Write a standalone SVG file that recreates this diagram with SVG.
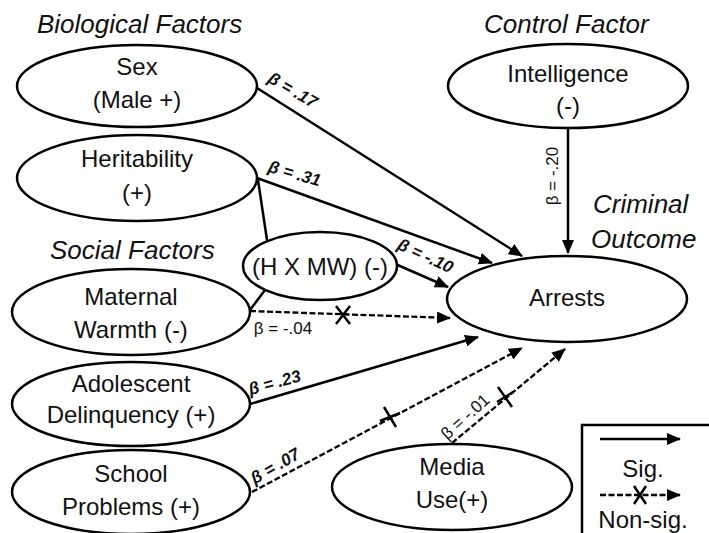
<svg xmlns="http://www.w3.org/2000/svg" width="709" height="533" viewBox="0 0 709 533">
<style>
.node ellipse{fill:#fff;stroke:#000;stroke-width:2.5}
.nt{font-family:"Liberation Sans",Arial,sans-serif;font-size:24px;text-anchor:middle;fill:#111}
.hd{font-family:"Liberation Sans",Arial,sans-serif;font-size:26px;font-style:italic;fill:#111}
.b{font-family:"Liberation Sans",Arial,sans-serif;font-size:17px;font-style:italic;font-weight:bold;fill:#111;text-anchor:middle}
.br{font-family:"Liberation Sans",Arial,sans-serif;font-size:17px;fill:#111;text-anchor:middle}
.sol{stroke:#000;stroke-width:2.5;fill:none}
.dash{stroke:#000;stroke-width:2.3;fill:none;stroke-dasharray:6 2.5}
.x{stroke:#000;stroke-width:2.5;fill:none}
</style>
<defs>
<marker id="ah" markerUnits="userSpaceOnUse" markerWidth="14" markerHeight="12" refX="13" refY="6" orient="auto">
<path d="M0,0 L14,6 L0,12 z" fill="#000"/>
</marker>
</defs>
<rect width="709" height="533" fill="#fff"/>

<text class="hd" x="37" y="33">Biological Factors</text>
<text class="hd" x="484" y="33">Control Factor</text>
<text class="hd" x="593" y="213">Criminal</text>
<text class="hd" x="591" y="248">Outcome</text>
<text class="hd" x="50" y="259">Social Factors</text>

<g id="connectors">
<path class="sol" d="M257,88 L522,256" marker-end="url(#ah)"/>
<path class="sol" d="M257,178 L492,263" marker-end="url(#ah)"/>
<path class="sol" d="M258,180 L267,240"/>
<path class="sol" d="M250,310 L265,290"/>
<path class="sol" d="M393,263 L448,287" marker-end="url(#ah)"/>
<path class="sol" d="M568,128 L568,253" marker-end="url(#ah)"/>
<path class="sol" d="M250,404 L478,337" marker-end="url(#ah)"/>
<path class="dash" d="M250,311 L450,318" marker-end="url(#ah)"/>
<path class="x" d="M336,306 L350,324 M350,306 L336,324"/>
<path class="dash" d="M252,492 L522,348" marker-end="url(#ah)"/>
<path class="x" d="M384,407 L396,427 M380,421 L400,413"/>
<path class="dash" d="M452,443 L565,349" marker-end="url(#ah)"/>
<path class="x" d="M498,387 L512,407 M497,402 L513,392"/>
<text class="b" transform="translate(290,95) rotate(30)">β = .17</text>
<text class="b" transform="translate(293,179) rotate(16)">β = .31</text>
<text class="b" transform="translate(423,261) rotate(25)">β = -.10</text>
<text class="br" x="283" y="334">β = -.04</text>
<text class="b" transform="translate(276,388) rotate(-15)">β = .23</text>
<text class="b" transform="translate(278,471) rotate(-30)">β = .07</text>
<text class="br" transform="translate(469,421) rotate(-42)">β = -.01</text>
<text class="br" transform="translate(558,176) rotate(-90)">β = -.20</text>
</g>

<g id="sex" class="node"><ellipse cx="137" cy="86" rx="120" ry="41"/><text class="nt" x="137" y="75">Sex</text><text class="nt" x="137" y="108">(Male +)</text></g>
<g id="heritability" class="node"><ellipse cx="137" cy="178" rx="120" ry="43"/><text class="nt" x="137" y="167">Heritability</text><text class="nt" x="137" y="201">(+)</text></g>
<g id="intelligence" class="node"><ellipse cx="568" cy="86" rx="120" ry="42"/><text class="nt" x="568" y="82">Intelligence</text><text class="nt" x="568" y="114">(-)</text></g>
<g id="hxmw" class="node"><ellipse cx="320" cy="266" rx="77" ry="34"/><text class="nt" x="320" y="275">(H X MW) (-)</text></g>
<g id="maternal" class="node"><ellipse cx="131" cy="312" rx="119" ry="43"/><text class="nt" x="131" y="305">Maternal</text><text class="nt" x="131" y="338">Warmth (-)</text></g>
<g id="arrests" class="node"><ellipse cx="567" cy="299" rx="120" ry="43"/><text class="nt" x="567" y="306">Arrests</text></g>
<g id="adolescent" class="node"><ellipse cx="131" cy="404" rx="119" ry="42"/><text class="nt" x="131" y="392">Adolescent</text><text class="nt" x="131" y="423">Delinquency (+)</text></g>
<g id="school" class="node"><ellipse cx="131" cy="492" rx="119" ry="42"/><text class="nt" x="131" y="482">School</text><text class="nt" x="131" y="515">Problems (+)</text></g>
<g id="media" class="node"><ellipse cx="452" cy="487" rx="120" ry="43"/><text class="nt" x="452" y="475">Media</text><text class="nt" x="452" y="508">Use(+)</text></g>

<g id="legend">
<rect x="582" y="425" width="140" height="120" fill="#fff" stroke="#000" stroke-width="2.5"/>
<path class="sol" d="M600,439 L680,439" marker-end="url(#ah)"/>
<text class="nt" x="643" y="477">Sig.</text>
<path class="dash" d="M600,495 L680,495" marker-end="url(#ah)"/>
<path class="x" d="M634,486 L646,504 M646,486 L634,504"/>
<text class="nt" x="643" y="528">Non-sig.</text>
</g>
</svg>
